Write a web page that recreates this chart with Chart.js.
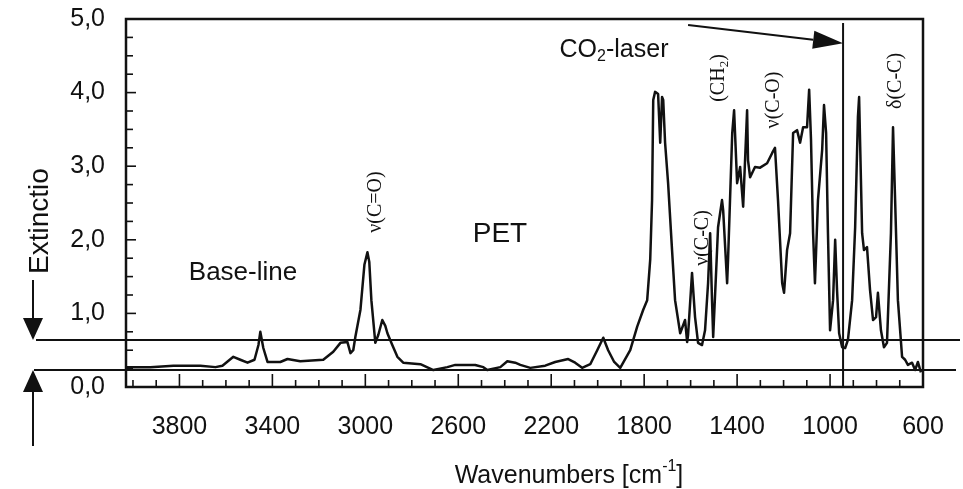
<!DOCTYPE html>
<html>
<head>
<meta charset="utf-8">
<script src="https://cdn.jsdelivr.net/npm/chart.js@4.4.0/dist/chart.umd.min.js"></script>
<style>
  html, body { margin: 0; padding: 0; background: #fff; }
</style>
</head>
<body>
<canvas id="myChart" width="963" height="489"></canvas>
<script>
// spectrum (wavenumber in cm-1, extinction)
const wavenumbers = [4028,3925,3826,3710,3645,3615,3568,3538,3507,3477,
  3460,3452,3439,3421,3366,3335,3280,3181,3138,3107,
  3077,3064,3052,3043,3021,3004,2991,2983,2974,2957,
  2944,2927,2914,2905,2884,2862,2837,2763,2707,2647,
  2613,2527,2492,2475,2419,2389,2355,2333,2290,2226,
  2183,2127,2097,2067,2032,2002,1976,1955,1929,1903,
  1860,1830,1804,1787,1774,1766,1761,1753,1740,1731,
  1723,1718,1710,1697,1680,1667,1645,1624,1615,1611,
  1594,1581,1568,1551,1538,1525,1516,1508,1503,1490,
  1482,1465,1460,1443,1439,1421,1413,1400,1387,1374,
  1357,1353,1344,1323,1301,1271,1249,1237,1224,1206,
  1198,1185,1172,1159,1142,1129,1116,1099,1090,1082,
  1073,1065,1052,1034,1026,1017,1009,1000,987,978,
  970,961,948,935,923,905,892,880,875,862,
  854,841,828,815,802,794,781,768,755,738,
  729,720,708,690,677,665,647,634,622,609];
const extinction = [0.27,0.27,0.29,0.29,0.27,0.29,0.41,0.37,0.33,0.37,
  0.57,0.75,0.53,0.34,0.34,0.38,0.35,0.37,0.48,0.60,
  0.61,0.46,0.50,0.68,1.05,1.66,1.83,1.70,1.18,0.60,
  0.71,0.91,0.83,0.73,0.57,0.41,0.33,0.31,0.23,0.27,
  0.30,0.30,0.27,0.23,0.27,0.35,0.33,0.30,0.26,0.29,
  0.34,0.38,0.33,0.26,0.31,0.50,0.67,0.50,0.34,0.26,
  0.50,0.82,1.05,1.18,1.73,2.54,3.90,4.01,3.98,3.32,
  3.94,3.90,3.32,2.77,1.86,1.18,0.73,0.91,0.61,0.71,
  1.55,0.95,0.60,0.57,0.77,1.41,2.09,1.18,0.68,1.59,
  2.17,2.54,2.40,1.41,1.73,3.45,3.76,2.77,2.99,2.45,
  3.76,3.08,2.85,2.99,2.98,3.04,3.18,3.25,2.54,1.41,
  1.28,1.86,2.09,3.45,3.49,3.32,3.53,3.53,4.04,3.36,
  2.09,1.41,2.54,3.22,3.83,3.45,2.09,0.77,1.18,2.00,
  1.32,0.73,0.54,0.53,0.64,1.18,2.17,3.67,3.94,2.09,
  1.86,1.90,1.32,0.91,0.95,1.28,0.77,0.54,0.60,2.09,
  3.53,2.54,1.18,0.41,0.37,0.30,0.33,0.23,0.34,0.20];

const xTickValues = [3800, 3400, 3000, 2600, 2200, 1800, 1400, 1000, 600];
const yTickValues = [0, 1, 2, 3, 4, 5];
const xMinorStep = 100;
const yMinorStep = 0.25;

// reference levels and the laser line
const upperLevel = 0.64;
const baseLevel = 0.23;
const laserWavenumber = 944;
const laserArrowFrom = [1611, 4.92];
const laserArrowTo = [944, 4.67];

const ink = '#111';
const sans = '"Liberation Sans", Arial, sans-serif';
const serif = '"Liberation Serif", "Times New Roman", serif';

const points = wavenumbers.map((w, i) => ({x: w, y: extinction[i]}));

//////////////////////////
// little draw helpers  //
//////////////////////////
const line = (ctx, x1, y1, x2, y2) => {
    ctx.beginPath();
    ctx.moveTo(x1, y1);
    ctx.lineTo(x2, y2);
    ctx.stroke();
};

const arrow = (ctx, x1, y1, x2, y2, len, half) => {
    const ang = Math.atan2(y2 - y1, x2 - x1);
    const bx = x2 - len * Math.cos(ang), by = y2 - len * Math.sin(ang);
    line(ctx, x1, y1, bx, by);
    ctx.beginPath();
    ctx.moveTo(x2, y2);
    ctx.lineTo(bx + half * Math.sin(ang), by - half * Math.cos(ang));
    ctx.lineTo(bx - half * Math.sin(ang), by + half * Math.cos(ang));
    ctx.closePath();
    ctx.fill();
};

// text with sub / superscript parts, centred on (cx, cy)
const drawRich = (ctx, parts, cx, cy, size, family) => {
    const fontOf = (p) => (p.s ? Math.round(size * 0.65) : size) + 'px ' + family;
    const widths = parts.map(p => { ctx.font = fontOf(p); return ctx.measureText(p.t).width; });
    let xx = cx - widths.reduce((s, w) => s + w, 0) / 2;
    ctx.textAlign = 'left';
    ctx.textBaseline = 'middle';
    parts.forEach((p, i) => {
        ctx.font = fontOf(p);
        const dy = p.s === 'sub' ? size * 0.28 : p.s === 'sup' ? -size * 0.38 : 0;
        ctx.fillText(p.t, xx, cy + dy);
        xx += widths[i];
    });
};

const drawRotated = (ctx, parts, cx, cy, size, family) => {
    ctx.save();
    ctx.translate(cx, cy);
    ctx.rotate(-Math.PI / 2);
    drawRich(ctx, parts, 0, 0, size, family);
    ctx.restore();
};

const sketch = {
    id: 'sketch',
    afterDraw(chart) {
        const {ctx, chartArea: a, scales: {x, y}} = chart;
        ctx.save();
        ctx.strokeStyle = ink;
        ctx.fillStyle = ink;

        // frame
        ctx.lineWidth = 2.5;
        ctx.strokeRect(a.left, a.top, a.right - a.left, a.bottom - a.top);

        // inner ticks
        ctx.lineWidth = 1.6;
        for (let w = 600; w <= 4000; w += xMinorStep) {
            const px = x.getPixelForValue(w);
            line(ctx, px, a.bottom, px, a.bottom - (xTickValues.includes(w) ? 13 : 7));
        }
        for (let v = yMinorStep; v < 5; v += yMinorStep) {
            const py = y.getPixelForValue(v);
            line(ctx, a.left, py, a.left + (Number.isInteger(v) ? 10 : 7), py);
        }

        // upper and base lines, running past the frame
        ctx.lineWidth = 2;
        const yu = y.getPixelForValue(upperLevel);
        const yb = y.getPixelForValue(baseLevel);
        line(ctx, 36, yu, 960, yu);
        line(ctx, 34, yb, 956, yb);

        // CO2 laser line and arrow
        const xl = x.getPixelForValue(laserWavenumber);
        line(ctx, xl, a.top + 4, xl, a.bottom);
        arrow(ctx, x.getPixelForValue(laserArrowFrom[0]), y.getPixelForValue(laserArrowFrom[1]),
              x.getPixelForValue(laserArrowTo[0]), y.getPixelForValue(laserArrowTo[1]), 30, 9);

        // left arrows marking the two levels
        arrow(ctx, 33, 280, 33, yu, 22, 10);
        arrow(ctx, 33, 446, 33, yb, 22, 10);

        // texts
        drawRich(ctx, [{t: 'CO'}, {t: '2', s: 'sub'}, {t: '-laser'}], 614, 50, 25, sans);
        drawRich(ctx, [{t: 'PET'}], 500, 234, 28, sans);
        drawRich(ctx, [{t: 'Base-line'}], 243, 273, 26, sans);
        drawRich(ctx, [{t: 'Wavenumbers [cm'}, {t: '-1', s: 'sup'}, {t: ']'}], 569, 476, 25, sans);
        drawRotated(ctx, [{t: 'Extinctio'}], 40, 221, 28, sans);

        drawRotated(ctx, [{t: 'ν(C=O)'}], 376, 202, 20, serif);
        drawRotated(ctx, [{t: 'ν(C-C)'}], 703, 238, 20, serif);
        drawRotated(ctx, [{t: '(CH'}, {t: '2', s: 'sub'}, {t: ')'}], 719, 78, 20, serif);
        drawRotated(ctx, [{t: 'ν(C-O)'}], 774, 100, 20, serif);
        drawRotated(ctx, [{t: 'δ(C-C)'}], 896, 81, 20, serif);

        ctx.restore();
    }
};

new Chart('myChart', {
    type: 'line',
    data: {
        datasets: [{
            label: 'PET',
            data: points,
            borderColor: ink,
            borderWidth: 2.5,
            pointRadius: 0,
            tension: 0,
            borderJoinStyle: 'round',
            fill: false
        }]
    },
    options: {
        responsive: false,
        animation: false,
        layout: { padding: { top: 19, right: 40, left: 0, bottom: 0 } },
        plugins: { legend: { display: false }, tooltip: { enabled: false } },
        scales: {
            x: {
                type: 'linear',
                reverse: true,
                min: 600,
                max: 4030,
                grid: { display: false, drawTicks: false },
                border: { display: false },
                afterBuildTicks: s => { s.ticks = xTickValues.map(v => ({value: v})); },
                afterFit: s => { s.height = 102; s.paddingLeft = 0; s.paddingRight = 0; },
                ticks: {
                    autoSkip: false,
                    maxRotation: 0,
                    padding: 25,
                    color: ink,
                    font: { family: sans, size: 25 },
                    callback: v => String(v)
                }
            },
            y: {
                min: 0,
                max: 5,
                grid: { display: false, drawTicks: false },
                border: { display: false },
                afterBuildTicks: s => { s.ticks = yTickValues.map(v => ({value: v})); },
                afterFit: s => { s.width = 126; s.paddingTop = 0; s.paddingBottom = 0; },
                ticks: {
                    padding: 21,
                    color: ink,
                    font: { family: sans, size: 25 },
                    callback: v => v.toFixed(1).replace('.', ',')
                }
            }
        }
    },
    plugins: [sketch]
});
</script>
</body>
</html>
